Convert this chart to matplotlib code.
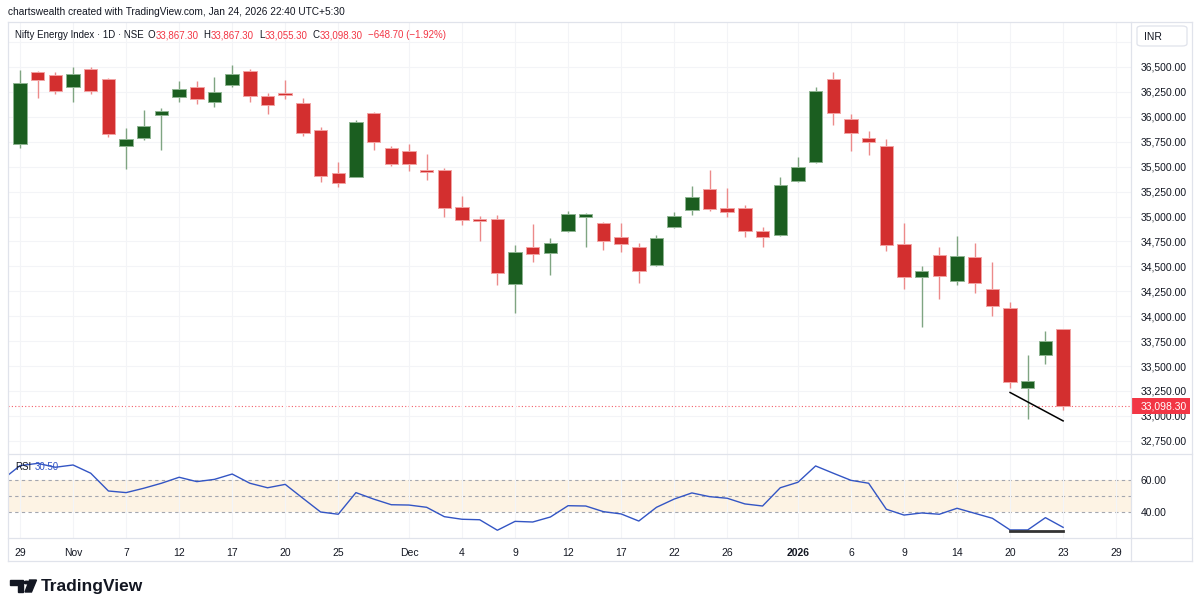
import matplotlib
matplotlib.use('Agg')
import matplotlib.pyplot as plt
from matplotlib.patches import Rectangle, FancyBboxPatch, Polygon, Circle
from matplotlib.lines import Line2D
from matplotlib.transforms import blended_transform_factory

# session dates (NSE trading days)
dates = ['2025-10-29', '2025-10-30', '2025-10-31', '2025-11-03', '2025-11-04', '2025-11-06',
         '2025-11-07', '2025-11-10', '2025-11-11', '2025-11-12', '2025-11-13', '2025-11-14',
         '2025-11-17', '2025-11-18', '2025-11-19', '2025-11-20', '2025-11-21', '2025-11-24',
         '2025-11-25', '2025-11-26', '2025-11-27', '2025-11-28', '2025-12-01', '2025-12-02',
         '2025-12-03', '2025-12-04', '2025-12-05', '2025-12-08', '2025-12-09', '2025-12-10',
         '2025-12-11', '2025-12-12', '2025-12-15', '2025-12-16', '2025-12-17', '2025-12-18',
         '2025-12-19', '2025-12-22', '2025-12-23', '2025-12-24', '2025-12-26', '2025-12-29',
         '2025-12-30', '2025-12-31', '2026-01-01', '2026-01-02', '2026-01-05', '2026-01-06',
         '2026-01-07', '2026-01-08', '2026-01-09', '2026-01-12', '2026-01-13', '2026-01-14',
         '2026-01-16', '2026-01-19', '2026-01-20', '2026-01-21', '2026-01-22', '2026-01-23']
future_dates = ['2026-01-27', '2026-01-28', '2026-01-29']

opens = [35731, 36453, 36420, 36299, 36480, 36380, 35705, 35785, 36016, 36202,
         36296, 36149, 36316, 36460, 36209, 36232, 36136, 35871, 35434, 35400,
         36036, 35685, 35661, 35467, 35467, 35096, 34975, 34975, 34320, 34695,
         34637, 34855, 34999, 34932, 34798, 34691, 34511, 34895, 35063, 35273,
         35089, 35083, 34855, 34815, 35360, 35544, 36380, 35975, 35785, 35705,
         34725, 34391, 34617, 34354, 34594, 34276, 34080, 33277, 33608, 33867.30]
highs = [36470, 36460, 36447, 36503, 36503, 36390, 35885, 36069, 36086, 36363,
         36357, 36400, 36517, 36477, 36236, 36370, 36186, 35898, 35547, 35971,
         36052, 35708, 35728, 35627, 35484, 35206, 35005, 35016, 34712, 34928,
         34782, 35056, 35039, 34945, 34932, 34732, 34812, 35049, 35310, 35464,
         35283, 35116, 34895, 35397, 35600, 36299, 36450, 36029, 35858, 35775,
         34935, 34507, 34692, 34802, 34735, 34541, 34143, 33611, 33852, 33867.30]
lows = [35691, 36192, 36232, 36152, 36232, 35795, 35474, 35771, 35670, 36152,
        36126, 36099, 36302, 36146, 36029, 36182, 35811, 35350, 35299, 35394,
        35670, 35510, 35457, 35370, 34999, 34918, 34758, 34313, 34030, 34547,
        34417, 34848, 34698, 34665, 34647, 34336, 34504, 34885, 35019, 35059,
        34999, 34798, 34698, 34808, 35344, 35534, 35915, 35657, 35620, 34654,
        34276, 33895, 34170, 34316, 34236, 34000, 33277, 32969, 33524, 33055.30]
closes = [36337, 36373, 36259, 36427, 36259, 35825, 35778, 35905, 36056, 36276,
          36176, 36249, 36427, 36209, 36116, 36216, 35838, 35410, 35334, 35951,
          35745, 35530, 35524, 35447, 35089, 34965, 34952, 34431, 34647, 34624,
          34738, 35029, 35016, 34755, 34722, 34451, 34782, 35005, 35199, 35079,
          35043, 34855, 34795, 35313, 35494, 36262, 36039, 35838, 35751, 34718,
          34391, 34457, 34404, 34607, 34334, 34100, 33344, 33354, 33747, 33098.30]

# RSI(14); first value belongs to the session before the window (Oct 28)
rsi_before = 60.0
rsi = [68.7, 70.1, 67.7, 69.1, 64.0, 53.0, 52.0, 54.7, 57.8, 61.5,
       58.8, 60.2, 63.5, 57.8, 55.0, 57.1, 48.5, 40.0, 38.6, 52.0,
       48.0, 44.5, 44.3, 42.9, 37.1, 35.5, 35.2, 28.7, 34.2, 33.8,
       36.9, 43.9, 43.7, 40.2, 38.8, 34.4, 42.9, 48.0, 51.8, 49.5,
       48.5, 45.0, 43.7, 55.0, 58.4, 68.5, 64.0, 59.6, 57.8, 41.7,
       38.1, 39.4, 38.6, 42.3, 39.2, 36.1, 28.9, 28.9, 36.5, 30.5]

tick_dates = ['2025-10-29', '2025-11-03', '2025-11-07', '2025-11-12', '2025-11-17', '2025-11-20',
              '2025-11-25', '2025-12-01', '2025-12-04', '2025-12-09', '2025-12-12', '2025-12-17',
              '2025-12-22', '2025-12-26', '2026-01-01', '2026-01-06', '2026-01-09', '2026-01-14',
              '2026-01-20', '2026-01-23', '2026-01-29']
tick_labels = ['29', 'Nov', '7', '12', '17', '20', '25', 'Dec', '4', '9', '12', '17',
               '22', '26', '2026', '6', '9', '14', '20', '23', '29']

# drawn trend lines (divergence)
trend_dates = ['2026-01-20', '2026-01-23']
trend_price = [33235, 32950]
trend_rsi = [28.4, 28.4]

price_ticks = [32750, 33000, 33250, 33500, 33750, 34000, 34250, 34500, 34750,
               35000, 35250, 35500, 35750, 36000, 36250, 36500, 36750]

# ---------------------------------------------------------------
plt.rcParams['font.family'] = ['Liberation Sans', 'DejaVu Sans']
W, H = 1200, 611
fig = plt.figure(figsize=(12, 6.11), dpi=100)
fig.patch.set_facecolor('white')

def fx(px):
    return px / W

def fy(py):
    return 1 - py / H

TXT = '#131722'
RED = '#f23645'
UP = '#1b5e20'
DOWN = '#d32f2f'
BORDER = '#e0e3eb'
GRID = '#f3f4f7'

axis_dates = dates + future_dates
xpos = {d: i for i, d in enumerate(axis_dates)}
x = [xpos[d] for d in dates]

ax = fig.add_axes([fx(8), fy(454), fx(1131) - fx(8), fy(22) - fy(454)])
ax_rsi = fig.add_axes([fx(8), fy(538), fx(1131) - fx(8), fy(454) - fy(538)], sharex=ax)

# candles
for i, o, h, l, c in zip(x, opens, highs, lows, closes):
    up = c >= o
    body = UP if up else DOWN
    wick = '#7fa582' if up else '#ec8a8a'
    edge = '#8fb592' if up else '#f2a3a3'
    ax.vlines(i, l, h, color=wick, lw=1.0, zorder=2)
    bottom = min(o, c)
    height = max(abs(c - o), 22)
    ax.bar(i, height, bottom=bottom, width=0.76, color=body, edgecolor=edge,
           linewidth=0.7, zorder=3)

# last close line + label
last = closes[-1]
ax.axhline(last, color=RED, lw=0.8, ls=(0, (1, 2)), zorder=1, alpha=0.8)
bt = blended_transform_factory(ax.transAxes, ax.transData)
ax.add_patch(Rectangle((1.0, last - 80), 0.0525, 160, transform=bt, facecolor=RED,
                       edgecolor='none', clip_on=False, zorder=10))
ax.text(1.0089, last, f'{last:,.2f}', transform=bt, color='white', fontsize=7.5,
        va='center', ha='left', clip_on=False, zorder=11)

ax.plot([xpos[d] for d in trend_dates], trend_price, color='black', lw=1.1, zorder=4)

ax.set_xlim(-0.68, 62.84)
ax.set_ylim(32618, 36951)
ax.yaxis.tick_right()
ax.set_yticks(price_ticks)
ax.set_yticklabels([f'{v:,.2f}' if v <= 36500 else '' for v in price_ticks])
ax.tick_params(axis='y', length=0, pad=7, labelsize=7.5, labelcolor=TXT)
ax.tick_params(axis='x', length=0, labelbottom=False)
ax.set_xticks([xpos[d] for d in tick_dates])
ax.grid(True, color=GRID, lw=0.8, zorder=0)
for s in ax.spines.values():
    s.set_visible(False)

# RSI pane
ax_rsi.axhspan(40, 60, color='#fdf3e4', zorder=0, lw=0)
for lvl in (40, 50, 60):
    ax_rsi.axhline(lvl, color='#a3a6af', lw=0.8, ls=(0, (3, 3)), zorder=1)
ax_rsi.plot([-1] + x, [rsi_before] + rsi, color='#3355c4', lw=1.0, zorder=3)
ax_rsi.plot([xpos[d] for d in trend_dates], trend_rsi, color='#333333', lw=2.0, zorder=4)
ax_rsi.set_ylim(23.9, 75.9)
ax_rsi.yaxis.tick_right()
ax_rsi.set_yticks([40, 60])
ax_rsi.set_yticklabels(['40.00', '60.00'])
ax_rsi.tick_params(axis='y', length=0, pad=7, labelsize=7.5, labelcolor=TXT)
ax_rsi.set_xticks([xpos[d] for d in tick_dates])
ax_rsi.set_xticklabels(tick_labels)
ax_rsi.tick_params(axis='x', length=0, pad=7, labelsize=7.5, labelcolor=TXT)
for lab in ax_rsi.get_xticklabels():
    if lab.get_text() == '2026':
        lab.set_fontweight('bold')
ax_rsi.grid(True, axis='x', color=GRID, lw=0.8, zorder=0)
for s in ax_rsi.spines.values():
    s.set_visible(False)

# frame lines
def hline(y, x0=8, x1=1192):
    fig.add_artist(Line2D([fx(x0), fx(x1)], [fy(y), fy(y)], color=BORDER, lw=0.9))

def vline(xp, y0=22, y1=561):
    fig.add_artist(Line2D([fx(xp), fx(xp)], [fy(y0), fy(y1)], color=BORDER, lw=0.9))

hline(22)
hline(454)
hline(538)
hline(561)
vline(8)
vline(1131)
vline(1192)

# INR box
fig.add_artist(FancyBboxPatch((fx(1137), fy(46)), fx(50), 20 / H,
                              boxstyle='round,pad=0,rounding_size=0.004',
                              transform=fig.transFigure, facecolor='white',
                              edgecolor=BORDER, lw=0.9))
fig.text(fx(1144), fy(36.5), 'INR', fontsize=7.5, color=TXT, va='center', ha='left')

# texts
fig.text(fx(8), fy(12), 'chartswealth created with TradingView.com, Jan 24, 2026 22:40 UTC+5:30',
         fontsize=7.3, color=TXT, va='center', ha='left')

renderer = fig.canvas.get_renderer()

def chain(x0, y0, parts, size):
    xp = x0
    for s, col, gap in parts:
        t = fig.text(fx(xp), fy(y0), s, fontsize=size, color=col, va='center', ha='left')
        xp += t.get_window_extent(renderer=renderer).width + gap

chain(15, 35.5, [('Nifty Energy Index · 1D · NSE', TXT, 4),
                 ('O', TXT, 0.3), ('33,867.30', RED, 5),
                 ('H', TXT, 0.3), ('33,867.30', RED, 5),
                 ('L', TXT, 0.3), ('33,055.30', RED, 5),
                 ('C', TXT, 0.3), ('33,098.30', RED, 5),
                 ('−648.70 (−1.92%)', RED, 0)], 7)

chain(15, 467.5, [('RSI', TXT, 4), ('30.50', '#3355c4', 0)], 7)

# TradingView logo
def poly(pts, **kw):
    fig.add_artist(Polygon([(fx(a), fy(b)) for a, b in pts], closed=True,
                           transform=fig.transFigure, **kw))

poly([(10, 580), (23, 580), (23, 592), (17.5, 592), (17.5, 585), (10, 585)], color=TXT)
fig.add_artist(Circle((fx(26.5), fy(582.5)), 2.5 / W, transform=fig.transFigure, color=TXT))
poly([(29.5, 580), (36.5, 580), (31.5, 592), (25, 592)], color=TXT)
fig.text(fx(41), fy(586), 'TradingView', fontsize=12.5, fontweight='bold', color=TXT,
         va='center', ha='left')

fig.savefig('out.png', dpi=100)
